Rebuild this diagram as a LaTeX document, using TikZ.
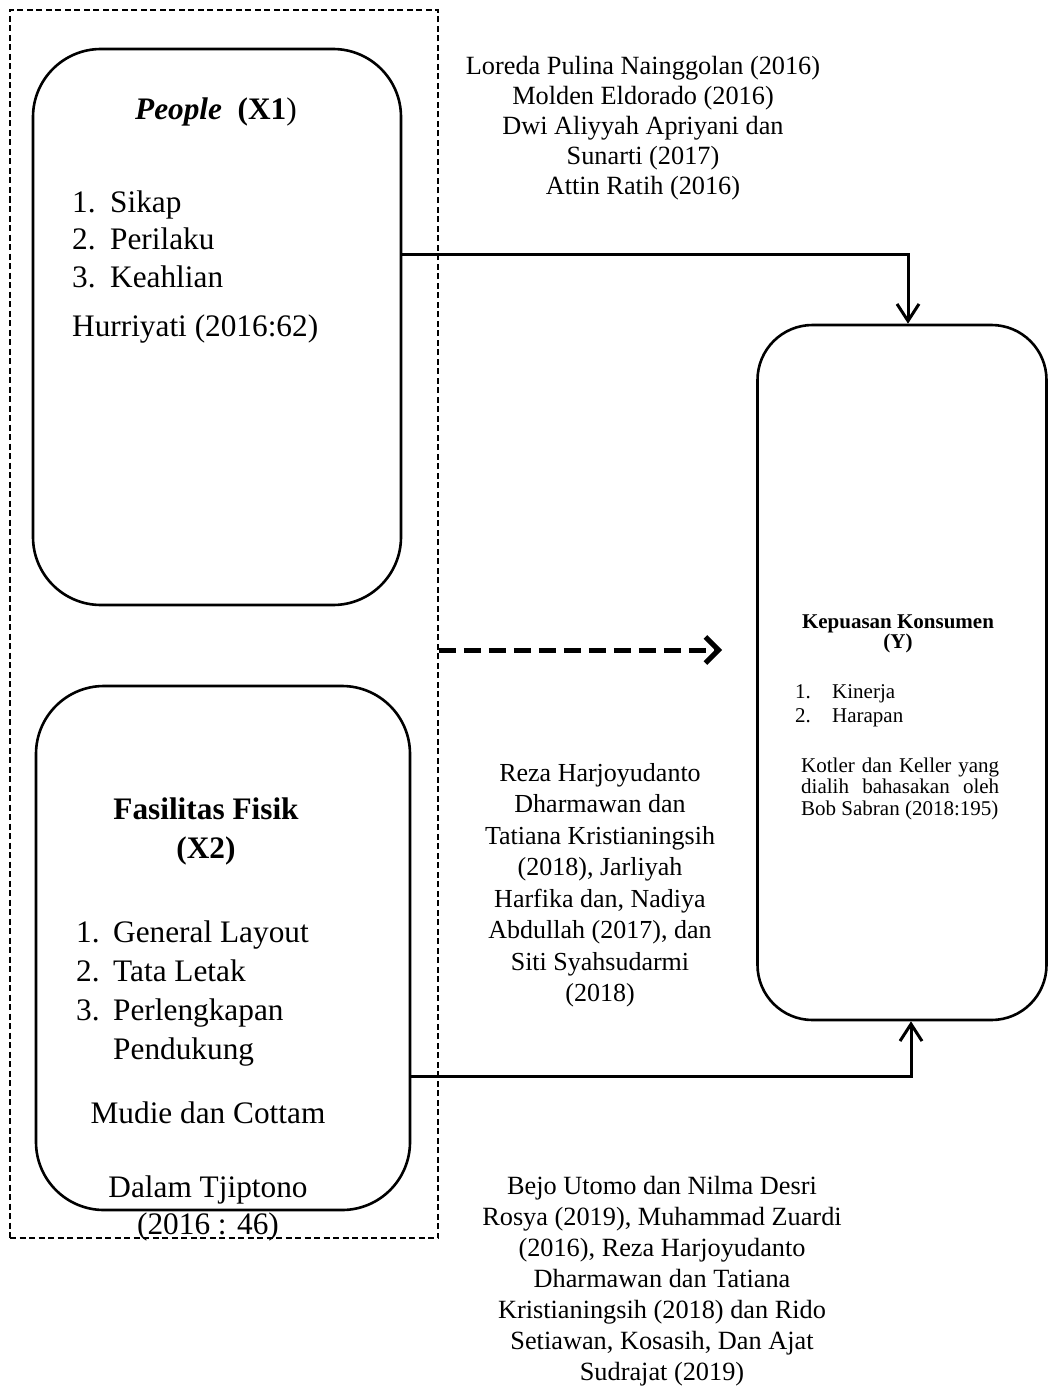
\documentclass[tikz,border=0pt]{standalone}
\usepackage{fontspec}
\setmainfont{Liberation Serif}
\usetikzlibrary{arrows.meta,calc}
\begin{document}
\begin{tikzpicture}[x=1pt,y=-1pt,
  frame/.style={draw, line width=1.6pt, dash pattern=on 6pt off 3.5pt, minimum width=428pt, minimum height=1228pt, inner sep=0pt},
  rbox/.style={draw, line width=2.6pt, rounded corners=68pt, inner sep=0pt},
  cite/.style={align=center, inner sep=0pt, font=\fontsize{26.3}{30}\selectfont},
  big/.style={inner sep=0pt, font=\fontsize{31.3}{37.5}\selectfont},
  small/.style={inner sep=0pt, font=\fontsize{21}{21.5}\selectfont},
  conn/.style={line width=3pt, -{Straight Barb[length=17pt,width=22pt]}},
  dconn/.style={line width=5pt, dash pattern=on 17pt off 8pt, -{Straight Barb[length=13pt,width=26pt]}}
]
\useasboundingbox (0,0) rectangle (1048,1391);
\fill[white] (0,0) rectangle (1048,1391);

% frame and boxes
\node[frame] (frame) at (224,624) {};
\node[rbox, minimum width=368pt, minimum height=556pt] (x1) at (217,327) {};
\node[rbox, minimum width=374pt, minimum height=524pt] (x2) at (223,948) {};
\node[rbox, rounded corners=55pt, minimum width=289pt, minimum height=695pt] (y) at (902,672.5) {};

% X1 texts (multi-line nodes: base = last line)
\node[big, anchor=base] (x1t) at (216,120) {\textbf{\textit{People}}\ \ \textbf{(X1})};
\node[big, anchor=base west, align=left] (x1l) at (72,287) {\makebox[38pt][l]{1.}Sikap\\ \makebox[38pt][l]{2.}Perilaku\\ \makebox[38pt][l]{3.}Keahlian};
\node[big, anchor=base west] (x1c) at (72,336) {Hurriyati (2016:62)};

% X2 texts
\node[big, anchor=base, align=center, font=\fontsize{31.3}{39}\selectfont] (x2t) at (206,858) {\textbf{Fasilitas Fisik}\\\textbf{(X2)}};
\node[big, anchor=base west, align=left, font=\fontsize{31.3}{39}\selectfont] (x2l) at (76,1059) {\makebox[37pt][l]{1.}General Layout\\ \makebox[37pt][l]{2.}Tata Letak\\ \makebox[37pt][l]{3.}Perlengkapan\\ \makebox[37pt][l]{}Pendukung};
\node[big, anchor=base] (x2c) at (208,1123) {Mudie dan Cottam};
\node[big, anchor=base, align=center] (x2d) at (208,1234.5) {Dalam Tjiptono\\(2016 : 46)};

% Y texts
\node[small, anchor=base, align=center, font=\fontsize{21}{20}\selectfont] (yt) at (898,648) {\textbf{Kepuasan Konsumen}\\\textbf{(Y)}};
\node[small, anchor=base west, align=left, font=\fontsize{21}{24}\selectfont] (yl) at (795,722) {\makebox[37pt][l]{1.}Kinerja\\ \makebox[37pt][l]{2.}Harapan};
\node[small, anchor=base west, align=left] (yc) at (801,815) {\makebox[198pt][s]{Kotler dan Keller yang}\\ \makebox[198pt][s]{dialih bahasakan oleh}\\ Bob Sabran (2018:195)};

% citations
\node[cite, anchor=base] (c1) at (643,195) {Loreda Pulina Nainggolan (2016)\\Molden Eldorado (2016)\\Dwi Aliyyah Apriyani dan\\Sunarti (2017)\\Attin Ratih (2016)};
\node[cite, anchor=base, font=\fontsize{26}{31.5}\selectfont] (c2) at (600,1001.5) {Reza Harjoyudanto\\Dharmawan dan\\Tatiana Kristianingsih\\(2018), Jarliyah\\Harfika dan, Nadiya\\Abdullah (2017), dan\\Siti Syahsudarmi\\(2018)};
\node[cite, anchor=base, font=\fontsize{26.3}{31}\selectfont] (c3) at (662,1380) {Bejo Utomo dan Nilma Desri\\Rosya (2019), Muhammad Zuardi\\(2016), Reza Harjoyudanto\\Dharmawan dan Tatiana\\Kristianingsih (2018) dan Rido\\Setiawan, Kosasih, Dan Ajat\\Sudrajat (2019)};

% connectors
\coordinate (a1) at (0,254);
\draw[conn] (x1.east |- a1) -| ([xshift=6pt]y.north);
\coordinate (dtip) at (722,650);
\draw[dconn] (frame.east |- dtip) -- (dtip);
\coordinate (a3) at (0,1076);
\draw[conn] (x2.east |- a3) -| ([xshift=9pt]y.south);
\end{tikzpicture}
\end{document}
